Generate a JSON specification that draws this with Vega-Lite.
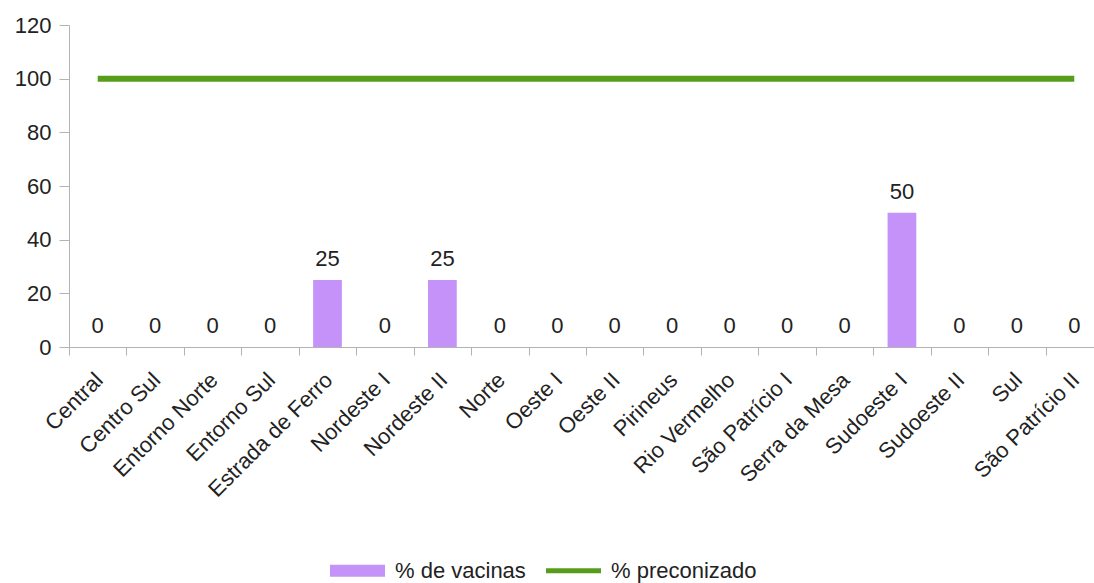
{
  "$schema": "https://vega.github.io/schema/vega-lite/v6.json",
  "width": 1034,
  "height": 322,
  "autosize": {"type": "none"},
  "padding": {"left": 69, "top": 25, "right": -9, "bottom": 236},
  "background": "white",
  "config": {
    "view": {"stroke": null},
    "font": "Liberation Sans",
    "axis": {
      "domainColor": "#b3b3b3",
      "tickColor": "#b3b3b3",
      "grid": false,
      "labelFont": "Liberation Sans",
      "labelFontSize": 22,
      "labelColor": "#222222",
      "title": null
    }
  },
  "data": {
    "values": [
      {"regiao": "Central", "vacinas": 0, "preconizado": 100},
      {"regiao": "Centro Sul", "vacinas": 0, "preconizado": 100},
      {"regiao": "Entorno Norte", "vacinas": 0, "preconizado": 100},
      {"regiao": "Entorno Sul", "vacinas": 0, "preconizado": 100},
      {"regiao": "Estrada de Ferro", "vacinas": 25, "preconizado": 100},
      {"regiao": "Nordeste I", "vacinas": 0, "preconizado": 100},
      {"regiao": "Nordeste II", "vacinas": 25, "preconizado": 100},
      {"regiao": "Norte", "vacinas": 0, "preconizado": 100},
      {"regiao": "Oeste I", "vacinas": 0, "preconizado": 100},
      {"regiao": "Oeste II", "vacinas": 0, "preconizado": 100},
      {"regiao": "Pirineus", "vacinas": 0, "preconizado": 100},
      {"regiao": "Rio Vermelho", "vacinas": 0, "preconizado": 100},
      {"regiao": "São Patrício I", "vacinas": 0, "preconizado": 100},
      {"regiao": "Serra da Mesa", "vacinas": 0, "preconizado": 100},
      {"regiao": "Sudoeste I", "vacinas": 50, "preconizado": 100},
      {"regiao": "Sudoeste II", "vacinas": 0, "preconizado": 100},
      {"regiao": "Sul", "vacinas": 0, "preconizado": 100},
      {"regiao": "São Patrício II", "vacinas": 0, "preconizado": 100}
    ]
  },
  "encoding": {
    "x": {
      "field": "regiao",
      "type": "nominal",
      "sort": null,
      "scale": {"paddingInner": 0, "paddingOuter": 0},
      "axis": {
        "labelAngle": -45,
        "labelAlign": "right",
        "labelBaseline": "top",
        "tickBand": "extent",
        "tickSize": 8,
        "labelPadding": 14,
        "labelOffset": -6
      }
    }
  },
  "layer": [
    {
      "mark": {"type": "bar", "width": {"band": 0.5}},
      "encoding": {
        "y": {
          "field": "vacinas",
          "type": "quantitative",
          "scale": {"domain": [0, 120], "nice": false},
          "axis": {"values": [0, 20, 40, 60, 80, 100, 120], "tickSize": 10, "labelPadding": 8}
        },
        "color": {
          "datum": "% de vacinas",
          "scale": {"domain": ["% de vacinas", "% preconizado"], "range": ["#c592fa", "#579d1c"]},
          "legend": {
            "title": null,
            "orient": "none",
            "direction": "horizontal",
            "legendX": 261,
            "legendY": 518,
            "symbolSize": 3025,
            "labelOffset": 10,
            "columnPadding": 20,
            "labelFont": "Liberation Sans",
            "labelFontSize": 22,
            "labelColor": "#222222",
            "encode": {
              "symbols": {
                "update": {
                  "shape": {"signal": "datum.value === '% de vacinas' ? 'M-1,-0.22H1V0.22H-1Z' : 'M-1,-0.09H1V0.09H-1Z'"},
                  "fill": {"scale": "color", "field": "value"},
                  "stroke": {"value": "transparent"},
                  "strokeWidth": {"value": 0},
                  "opacity": {"value": 1}
                }
              }
            }
          }
        }
      }
    },
    {
      "mark": {"type": "line", "strokeWidth": 6, "strokeCap": "butt"},
      "encoding": {
        "y": {"field": "preconizado", "type": "quantitative"},
        "color": {"datum": "% preconizado"}
      }
    },
    {
      "mark": {"type": "text", "baseline": "alphabetic", "dy": -14, "fontSize": 22, "color": "#222222", "font": "Liberation Sans"},
      "encoding": {
        "y": {"field": "vacinas", "type": "quantitative"},
        "text": {"field": "vacinas", "type": "quantitative"}
      }
    }
  ]
}
